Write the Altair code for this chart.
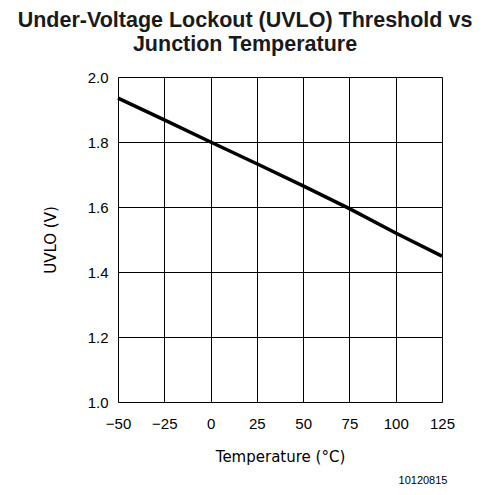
import altair as alt
import pandas as pd

temps = [-50, -25, 0, 25, 50, 75, 100, 125]
uvlo = [1.935, 1.868, 1.800, 1.733, 1.665, 1.595, 1.520, 1.449]

df = pd.DataFrame({"T": temps, "UVLO": uvlo})
note = pd.DataFrame({"label": ["10120815"]})

x_ticks = [-50, -25, 0, 25, 50, 75, 100, 125]
y_ticks = [1.0, 1.2, 1.4, 1.6, 1.8, 2.0]

line = alt.Chart(df).mark_line(color="black", strokeWidth=3.5).encode(
    x=alt.X("T:Q", scale=alt.Scale(domain=[-50, 125], nice=False, zero=False),
            axis=alt.Axis(values=x_ticks, title="Temperature (°C)", format="d",
                          labelFont="Liberation Sans", labelFontSize=15, labelColor="black",
                          labelPadding=14, ticks=False, domain=False,
                          grid=True, gridColor="black", gridWidth=1, gridOpacity=1,
                          titleFont="DejaVu Sans", titleFontSize=15, titleFontWeight="normal",
                          titleColor="black", titlePadding=18, labelFlush=False)),
    y=alt.Y("UVLO:Q", scale=alt.Scale(domain=[1.0, 2.0], nice=False, zero=False),
            axis=alt.Axis(values=y_ticks, title="UVLO (V)", format=".1f",
                          labelFont="Liberation Sans", labelFontSize=15, labelColor="black",
                          labelPadding=10, ticks=False, domain=False,
                          grid=True, gridColor="black", gridWidth=1, gridOpacity=1,
                          titleFont="DejaVu Sans", titleFontSize=15, titleFontWeight="normal",
                          titleColor="black", titlePadding=29, labelFlush=False)),
)

footnote = alt.Chart(note).mark_text(
    font="Liberation Sans", fontSize=11, color="black", align="center", baseline="middle"
).encode(text="label:N", x=alt.value(305), y=alt.value(404))

chart = alt.layer(line, footnote).properties(
    width=324, height=325,
    padding={"left": 110, "top": 69, "right": 39, "bottom": 85},
    autosize=alt.AutoSizeParams(type="none"),
    title=alt.TitleParams(
        text=["Under-Voltage Lockout (UVLO) Threshold vs", "Junction Temperature"],
        font="Liberation Sans", fontSize=21.5, fontWeight="bold", color="#1a1a1a",
        anchor="middle", offset=15, dx=-35, lineHeight=24,
    ),
).configure_view(stroke="black", strokeWidth=2).configure(background="white")

chart.save("out.html", embed_options={"renderer": "svg", "actions": False})
